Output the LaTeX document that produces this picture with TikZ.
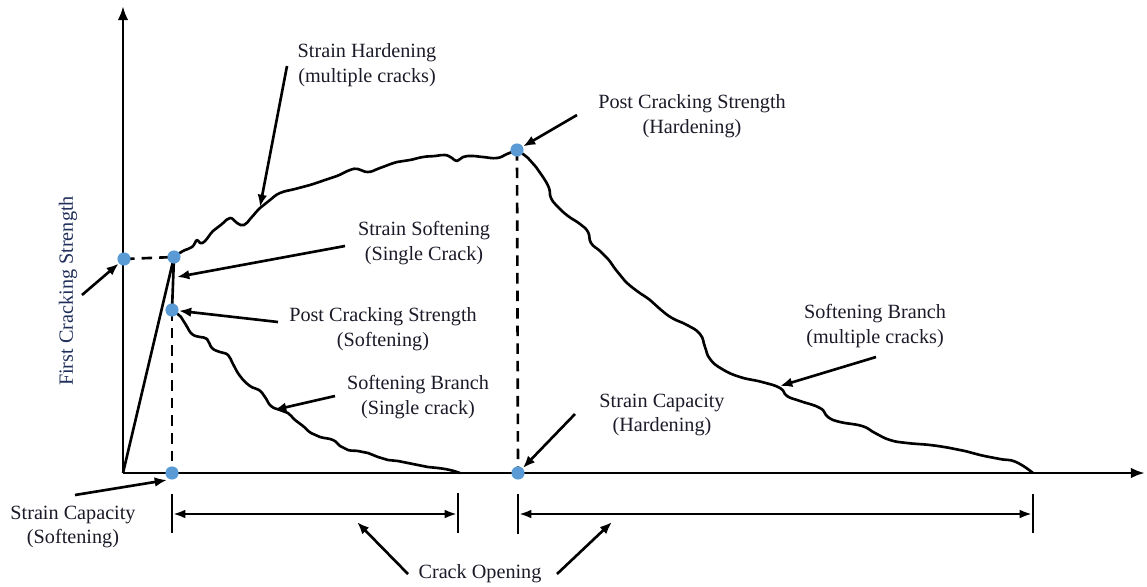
\documentclass[tikz,border=0pt]{standalone}
\usepackage{fontspec}
\setmainfont{Liberation Serif}
\usetikzlibrary{arrows.meta}
\definecolor{txt}{HTML}{1A1A28}
\definecolor{ylab}{HTML}{1F2F5A}
\definecolor{dotblue}{HTML}{5B9BD5}
\tikzset{
  lbl/.style={align=center, text=txt, font=\fontsize{11.5}{14.2}\selectfont, inner sep=0pt},
  axisline/.style={line width=1.6pt, -{Latex[length=8pt,width=6pt]}},
  curve/.style={line width=1.5pt, line join=round},
  ptr/.style={line width=1.5pt, -{Latex[length=7pt,width=5.5pt]}},
  dimline/.style={line width=1.4pt, {Latex[length=7pt,width=5pt]}-{Latex[length=7pt,width=5pt]}},
  tickline/.style={line width=1.4pt},
  dashln/.style={line width=1.5pt, dash pattern=on 6pt off 4pt},
  dotpt/.style={circle, fill=dotblue, inner sep=0pt, minimum size=7.5pt}
}
\begin{document}
\begin{tikzpicture}[x=0.02cm,y=-0.02cm]
\useasboundingbox (0,0) rectangle (1147,586);
% axes
\coordinate (O) at (123,473);
\coordinate (ytop) at (123,6);
\coordinate (xend) at (1145,473);
\draw[axisline] (O) -- (ytop);
\draw[axisline] (O) -- (xend);
% key points
\coordinate (fcs) at (124,259);
\coordinate (peak) at (174,257);
\coordinate (pcs) at (172,310);
\coordinate (scs) at (172,473);
\coordinate (pch) at (517,150);
\coordinate (sch) at (518,473);
% linear rise and vertical drop
\draw[curve] (O) -- (peak) -- (pcs);
% dashed guides
\draw[dashln] (fcs) -- (peak);
\draw[dashln] (pcs) -- (scs);
\draw[dashln] (pch) -- (sch);
% strain hardening curve
\draw[curve] plot[smooth, tension=0.8] coordinates {
 (174,257) (183,251) (192,247) (197,240) (200,243) (205,241) (213,231)
 (222,224) (230,218) (237,223) (244,225) (251,218) (260,208) (270,200) (280,193)
 (295,189) (310,185) (325,180) (337,176) (350,170) (358,169) (368,172) (380,168)
 (397,162) (410,160) (423,157) (435,156) (445,155) (452,158) (457,161) (463,157)
 (472,156) (483,157) (497,158) (507,154) (517,150)};
% single crack softening branch
\draw[curve] plot[smooth, tension=0.8] coordinates {
 (172,310) (181,317) (186,325) (192,334) (200,337) (207,339) (212,348)
 (220,352) (228,355) (233,364) (240,376) (250,386) (259,390)
 (265,397) (271,406) (280,410) (288,413) (295,420) (303,426) (311,433) (320,437)
 (333,440) (340,446) (348,450) (358,451) (368,453) (378,457) (388,460)
 (398,461) (408,463) (418,465) (428,467) (438,468) (450,470) (460,473)};
% multiple cracks softening branch
\draw[curve] plot[smooth, tension=0.8] coordinates {
 (517,150) (528,158) (536,167) (543,177) (549,188) (551,198) (558,207)
 (568,216) (580,224) (588,232) (591,243) (600,251) (608,259) (616,270)
 (625,281) (637,291) (650,300) (660,309) (672,318) (687,325) (700,334)
 (705,347) (710,359) (722,369) (740,377) (762,382) (780,388) (787,396) (800,401)
 (820,408) (828,417) (840,422) (862,426) (875,433) (890,440)
 (907,443) (930,445) (950,448) (965,451) (980,455) (1000,459) (1016,462)
 (1033,473)};
% dots
\node[dotpt] (dfcs) at (fcs) {};
\node[dotpt] (dpeak) at (peak) {};
\node[dotpt] (dpcs) at (pcs) {};
\node[dotpt] (dscs) at (scs) {};
\node[dotpt] (dpch) at (pch) {};
\node[dotpt] (dsch) at (sch) {};
% labels
\node[lbl] (lSH) at (367,65) {Strain Hardening\\(multiple cracks)};
\node[lbl] (lPCH) at (692,116) {Post Cracking Strength\\(Hardening)};
\node[lbl] (lSS) at (424,243) {Strain Softening\\(Single Crack)};
\node[lbl] (lPCS) at (383,329) {Post Cracking Strength\\(Softening)};
\node[lbl] (lSBS) at (418,397) {Softening Branch\\(Single crack)};
\node[lbl] (lSBM) at (875,326) {Softening Branch\\(multiple cracks)};
\node[lbl] (lSCH) at (662,415) {Strain Capacity\\(Hardening)};
\node[lbl] (lSCS) at (73,527) {Strain Capacity\\(Softening)};
\node[lbl] (lCO) at (480,574) {Crack Opening};
\node[lbl, text=ylab, rotate=90] (lFCS) at (68,291) {First Cracking Strength};
% pointer arrows
\coordinate (aSH0) at (287,66);  \coordinate (aSH1) at (260,207);
\coordinate (aPCH0) at (577,115);
\coordinate (aSS0) at (345,246); \coordinate (aSS1) at (177,277);
\coordinate (aPCS0) at (278,322);
\coordinate (aSBS0) at (335,396); \coordinate (aSBS1) at (274,410);
\coordinate (aSBM0) at (876,357); \coordinate (aSBM1) at (780,386);
\coordinate (aSCH0) at (575,414);
\coordinate (aSCS0) at (75,495); \coordinate (aSCS1) at (167,480);
\coordinate (aFCS0) at (82,295);
\coordinate (aCO10) at (408,574); \coordinate (aCO11) at (357,522);
\coordinate (aCO20) at (557,574); \coordinate (aCO21) at (612,522);
\draw[ptr] (aSH0) -- (aSH1);
\draw[ptr] (aPCH0) -- (dpch);
\draw[ptr] (aSS0) -- (aSS1);
\draw[ptr] (aPCS0) -- (dpcs);
\draw[ptr] (aSBS0) -- (aSBS1);
\draw[ptr] (aSBM0) -- (aSBM1);
\draw[ptr] (aSCH0) -- (dsch);
\draw[ptr] (aSCS0) -- (aSCS1);
\draw[ptr] (aFCS0) -- (dfcs);
\draw[ptr] (aCO10) -- (aCO11);
\draw[ptr] (aCO20) -- (aCO21);
% dimension lines
\coordinate (t1a) at (172,494); \coordinate (t1b) at (172,533);
\coordinate (t2a) at (458,493); \coordinate (t2b) at (458,533);
\coordinate (t3a) at (518,494); \coordinate (t3b) at (518,534);
\coordinate (t4a) at (1033,494); \coordinate (t4b) at (1033,533);
\draw[tickline] (t1a) -- (t1b);
\draw[tickline] (t2a) -- (t2b);
\draw[tickline] (t3a) -- (t3b);
\draw[tickline] (t4a) -- (t4b);
\coordinate (d1a) at (173,514); \coordinate (d1b) at (457,514);
\coordinate (d2a) at (519,514); \coordinate (d2b) at (1032,514);
\draw[dimline] (d1a) -- (d1b);
\draw[dimline] (d2a) -- (d2b);
\end{tikzpicture}
\end{document}
